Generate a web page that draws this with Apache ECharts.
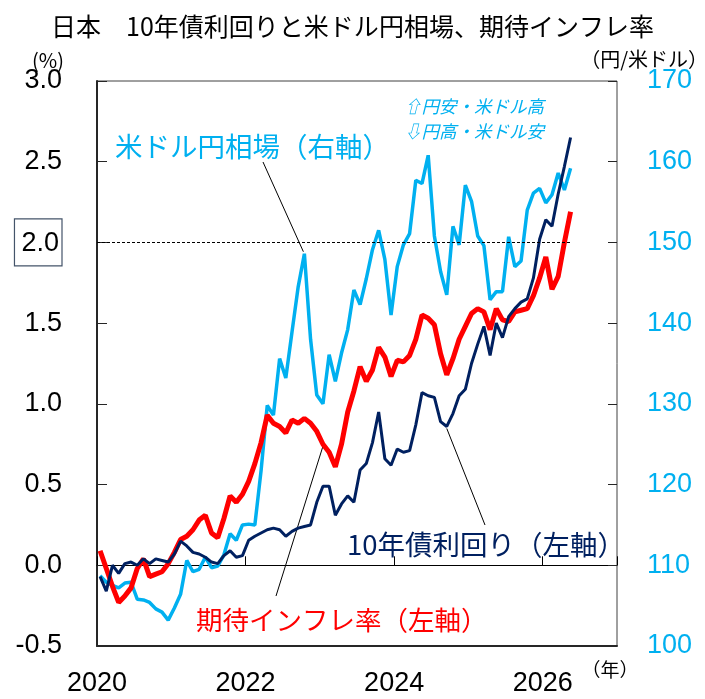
<!DOCTYPE html>
<html>
<head>
<meta charset="utf-8">
<script src="https://cdn.jsdelivr.net/npm/echarts@6/dist/echarts.min.js"></script>
<style>
html, body { margin: 0; padding: 0; background: #fff; }
#chart { width: 705px; height: 699px; }
</style>
</head>
<body>
<div id="chart"></div>
<script>
// 月次データ（2020年1月～2026年5月、月末値）
var months = [
  '2020-01','2020-02','2020-03','2020-04','2020-05','2020-06','2020-07','2020-08','2020-09','2020-10','2020-11','2020-12',
  '2021-01','2021-02','2021-03','2021-04','2021-05','2021-06','2021-07','2021-08','2021-09','2021-10','2021-11','2021-12',
  '2022-01','2022-02','2022-03','2022-04','2022-05','2022-06','2022-07','2022-08','2022-09','2022-10','2022-11','2022-12',
  '2023-01','2023-02','2023-03','2023-04','2023-05','2023-06','2023-07','2023-08','2023-09','2023-10','2023-11','2023-12',
  '2024-01','2024-02','2024-03','2024-04','2024-05','2024-06','2024-07','2024-08','2024-09','2024-10','2024-11','2024-12',
  '2025-01','2025-02','2025-03','2025-04','2025-05','2025-06','2025-07','2025-08','2025-09','2025-10','2025-11','2025-12',
  '2026-01','2026-02','2026-03','2026-04','2026-05'
];

// 米ドル円相場（円/米ドル、右軸）
var usdJpy = [
  108.7,107.9,107.5,107.2,107.8,107.9,105.8,105.7,105.4,104.6,104.2,103.2,
  104.7,106.4,110.6,109.2,109.5,111.0,109.7,109.9,111.3,113.9,113.1,115.0,
  115.1,115.0,121.7,129.8,128.6,135.6,133.2,138.9,144.5,148.6,138.0,131.1,
  130.0,136.1,132.8,136.3,139.2,144.1,142.3,145.5,149.1,151.5,147.9,141.0,
  147.0,149.7,151.1,157.7,157.3,160.8,150.8,146.4,143.5,152.0,149.7,157.1,
  155.1,150.8,149.6,142.9,143.9,143.9,150.7,147.0,147.7,154.0,156.1,156.7,
  154.9,155.9,158.6,156.5,159.2
];

// 期待インフレ率（%、左軸）
var inflationExp = [
  0.09,-0.02,-0.13,-0.23,-0.19,-0.14,-0.02,0.04,-0.07,-0.055,-0.04,0.01,
  0.08,0.16,0.18,0.22,0.28,0.31,0.20,0.17,0.29,0.43,0.39,0.44,
  0.52,0.63,0.76,0.93,0.88,0.86,0.82,0.90,0.88,0.91,0.88,0.83,
  0.75,0.70,0.61,0.75,0.95,1.08,1.23,1.14,1.21,1.35,1.29,1.17,
  1.27,1.26,1.30,1.40,1.55,1.53,1.49,1.31,1.18,1.28,1.40,1.48,
  1.56,1.59,1.57,1.46,1.59,1.52,1.51,1.57,1.58,1.59,1.67,1.78,
  1.91,1.71,1.79,2.00,2.19
];

// 10年債利回り（%、左軸）
var jgb10y = [
  -0.07,-0.16,0.00,-0.05,0.01,0.02,0.00,0.04,0.01,0.04,0.03,0.02,
  0.07,0.15,0.12,0.08,0.07,0.05,0.02,0.01,0.06,0.09,0.05,0.06,
  0.155,0.18,0.20,0.22,0.23,0.22,0.18,0.21,0.23,0.24,0.25,0.39,
  0.49,0.49,0.31,0.38,0.43,0.39,0.59,0.63,0.76,0.95,0.66,0.62,
  0.72,0.70,0.71,0.87,1.07,1.05,1.04,0.89,0.86,0.94,1.05,1.09,
  1.25,1.37,1.48,1.30,1.50,1.41,1.54,1.59,1.63,1.65,1.78,2.02,
  2.14,2.10,2.30,2.47,2.65
];

var yearMin = 2020, yearMax = 2027, yearStep = 2;
var refLevel = 2.0;   // 点線（2%）

var CJK = '"Noto Sans CJK JP", sans-serif';
var NUM = '"Liberation Sans", Arial, sans-serif';
var BLUE = '#00B0F0', RED = '#FF0000', NAVY = '#002060';

// 月を年の小数（月の中央）に変換
function toX(m) {
  var p = m.split('-');
  return +p[0] + (+p[1] - 0.5) / 12;
}
function pairs(vals) {
  return vals.map(function (v, i) { return [toX(months[i]), v]; });
}

var chart = echarts.init(document.getElementById('chart'));

var option = {
  animation: false,
  backgroundColor: '#fff',
  title: {
    text: '日本　10年債利回りと米ドル円相場、期待インフレ率',
    left: 'center',
    top: 9,
    textStyle: { fontFamily: CJK, fontSize: 25, fontWeight: 'normal', color: '#000' }
  },
  grid: {
    left: 97, right: 88, top: 81, bottom: 53,
    show: true, borderColor: '#404040', borderWidth: 1
  },
  xAxis: [{
    type: 'value',
    min: yearMin, max: yearMax, interval: yearStep,
    position: 'bottom',
    axisLine: { show: true, onZero: false, lineStyle: { color: '#262626', width: 2 } },
    axisTick: { show: false },
    splitLine: { show: false },
    axisLabel: {
      showMaxLabel: false,
      formatter: function (v) { return v < yearMax ? String(v) : ''; },
      fontFamily: NUM, fontSize: 27, color: '#000', margin: 24
    }
  }, {
    type: 'value',
    min: yearMin, max: yearMax, interval: yearStep,
    position: 'top',
    axisLine: { show: true, onZero: true, onZeroAxisIndex: 0, lineStyle: { color: '#000', width: 1 } },
    axisTick: { show: true, inside: false, length: 9, lineStyle: { color: '#000', width: 1 } },
    axisLabel: { show: false },
    splitLine: { show: false }
  }],
  yAxis: [{
    type: 'value',
    min: -0.5, max: 3.0, interval: 0.5,
    position: 'left',
    axisLine: { show: true, lineStyle: { color: '#262626', width: 2 } },
    axisTick: { show: true, inside: true, length: 10, lineStyle: { color: '#262626', width: 1 } },
    splitLine: { show: false },
    axisLabel: {
      fontFamily: NUM, fontSize: 27, color: '#000', margin: 35,
      formatter: function (v) {
        return v === refLevel ? '{box|' + v.toFixed(1) + '}' : v.toFixed(1);
      },
      rich: {
        box: {
          fontFamily: NUM, fontSize: 27, color: '#000',
          borderColor: '#44546A', borderWidth: 1.2,
          padding: [11, 3, 9, 7]
        }
      }
    }
  }, {
    type: 'value',
    min: 100, max: 170, interval: 10,
    position: 'right',
    axisLine: { show: false },
    axisTick: { show: true, inside: true, length: 9, lineStyle: { color: '#262626', width: 1 } },
    splitLine: { show: false },
    axisLabel: { fontFamily: NUM, fontSize: 27, color: BLUE, margin: 30 }
  }],
  series: [{
    name: '米ドル円相場',
    type: 'line',
    yAxisIndex: 1,
    data: pairs(usdJpy),
    symbol: 'none',
    z: 2,
    lineStyle: { color: BLUE, width: 3.5 }
  }, {
    name: '期待インフレ率',
    type: 'line',
    yAxisIndex: 0,
    data: pairs(inflationExp),
    symbol: 'none',
    z: 3,
    lineStyle: { color: RED, width: 5 },
    markLine: {
      silent: true,
      symbol: 'none',
      label: { show: false },
      lineStyle: { color: '#000', type: [3, 2], width: 1 },
      data: [[
        { coord: [yearMin, refLevel] },
        { coord: [toX(months[months.length - 1]), refLevel] }
      ]]
    }
  }, {
    name: '10年債利回り',
    type: 'line',
    yAxisIndex: 0,
    data: pairs(jgb10y),
    symbol: 'none',
    z: 4,
    lineStyle: { color: NAVY, width: 3 }
  }]
};

chart.setOption(option);

// 引出線の端点はデータ点から求める
function pt(seriesIndex, vals, i) {
  return chart.convertToPixel({ seriesIndex: seriesIndex }, [toX(months[i]), vals[i]]);
}
var pBlue = pt(0, usdJpy, 33);
var pRed = pt(1, inflationExp, 36);
var pNavy = pt(2, jgb10y, 56);

function txt(text, x, y, size, color, align, extra) {
  var s = {
    text: text, x: x, y: y,
    fontFamily: CJK, fontSize: size, fill: color,
    textAlign: align || 'left', textVerticalAlign: 'middle'
  };
  if (extra) { for (var k in extra) s[k] = extra[k]; }
  return { type: 'text', silent: true, style: s };
}
function leader(x1, y1, x2, y2) {
  return {
    type: 'line', silent: true,
    shape: { x1: x1, y1: y1, x2: x2, y2: y2 },
    style: { stroke: '#000', lineWidth: 1 }
  };
}

chart.setOption({
  graphic: [
    txt('(%)', 48, 60, 20, '#000', 'center'),
    txt('（円/米ドル）', 708, 59, 20, '#000', 'right'),
    txt('（年）', 610, 670, 19, '#000', 'center'),
    txt('米ドル円相場（右軸）', 115, 147, 27.5, BLUE),
    txt('⇧円安・米ドル高', 404, 106, 17.5, BLUE, 'left', { fontStyle: 'italic' }),
    txt('⇩円高・米ドル安', 404, 131, 17.5, BLUE, 'left', { fontStyle: 'italic' }),
    txt('10年債利回り（左軸）', 347, 545, 27.5, NAVY),
    txt('期待インフレ率（左軸）', 196, 620, 26.5, RED),
    leader(263, 162, pBlue[0] - 1, pBlue[1] - 2),
    leader(pRed[0], pRed[1] + 2, 276, 596),
    leader(pNavy[0], pNavy[1] + 2, 485, 525)
  ]
});
</script>
</body>
</html>
